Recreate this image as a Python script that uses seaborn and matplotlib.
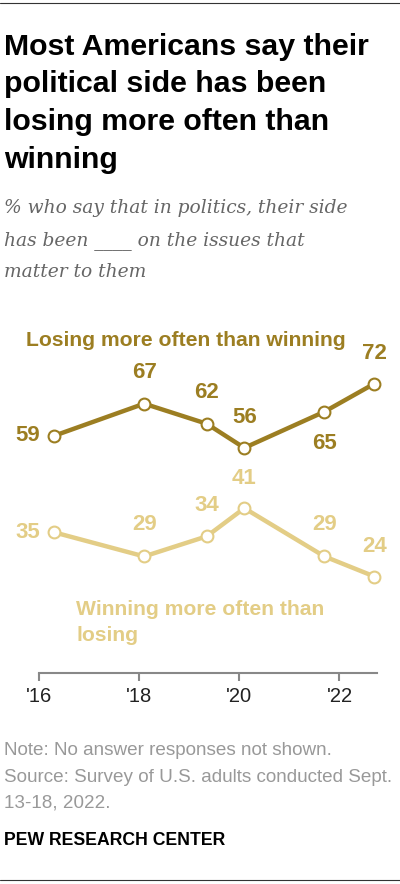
import matplotlib
matplotlib.use("Agg")
import matplotlib.pyplot as plt
import seaborn as sns
import pandas as pd

# Datos
years = [2016.3, 2018.1, 2019.35, 2020.1, 2021.7, 2022.7]
losing = [59, 67, 62, 56, 65, 72]
winning = [35, 29, 34, 41, 29, 24]
tick_years = [2016, 2018, 2020, 2022]
tick_labels = ["'16", "'18", "'20", "'22"]

dark = '#9c7e22'
light = '#e3cd86'

df = pd.DataFrame({'year': years, 'Losing': losing, 'Winning': winning})

sns.set_style("white")
plt.rcParams['font.family'] = ['Liberation Sans', 'DejaVu Sans']

W, H = 400, 884
fig = plt.figure(figsize=(W / 100, H / 100), dpi=100)
ax = fig.add_axes([39 / W, 211 / H, 338 / W, 341.7 / H])


def fy(y):
    return 1 - y / H


for col, color in [('Losing', dark), ('Winning', light)]:
    sns.lineplot(data=df, x='year', y=col, ax=ax, color=color, linewidth=3.2,
                 marker='o', markersize=8.5, markerfacecolor='white',
                 markeredgecolor=color, markeredgewidth=1.5, clip_on=False)

ax.set_xlim(2016, 2022.75)
ax.set_ylim(0, 85)
ax.set_xlabel("")
ax.set_ylabel("")
ax.set_yticks([])
ax.set_xticks(tick_years)
ax.set_xticklabels(tick_labels, fontsize=14.5, color='#222222')
ax.tick_params(axis='x', length=6, width=1.5, color='#888888', pad=4, bottom=True)
for s in ['top', 'right', 'left']:
    ax.spines[s].set_visible(False)
ax.spines['bottom'].set_color('#888888')
ax.spines['bottom'].set_linewidth(1.5)

# Etiquetas de valores (desplazamiento en píxeles, positivo hacia arriba)
loss_off = [(-26, 0), (0, 31), (0, 31), (0, 30), (0, -32), (0, 30)]
win_off = [(-26, 0), (0, 32), (0, 31), (0, 30), (0, 32), (0, 30)]
for vals, offs, color in [(losing, loss_off, dark), (winning, win_off, light)]:
    for x, v, (dx, dy) in zip(years, vals, offs):
        ax.annotate(f"{v}", (x, v), xytext=(dx, dy), textcoords='offset pixels',
                    ha='center', va='center', fontsize=16, fontweight='bold',
                    color=color, annotation_clip=False)

# Etiquetas de series
fig.text(26 / W, fy(346), "Losing more often than winning", fontsize=15.2,
         fontweight='bold', color=dark, va='baseline')
fig.text(76 / W, fy(615), "Winning more often than", fontsize=15.2,
         fontweight='bold', color=light, va='baseline')
fig.text(76 / W, fy(641), "losing", fontsize=15.2,
         fontweight='bold', color=light, va='baseline')

# Título
title = ["Most Americans say their", "political side has been",
         "losing more often than", "winning"]
for i, line in enumerate(title):
    fig.text(4 / W, fy(55 + i * 37.5), line, fontsize=21.8, fontweight='bold',
             color='black', va='baseline')

subtitle = ["% who say that in politics, their side",
            "has been ____ on the issues that",
            "matter to them"]
for i, line in enumerate(subtitle):
    fig.text(4 / W, fy(213 + i * 32), line, fontsize=13.4, style='italic',
             family='DejaVu Serif', color='#666666', va='baseline')

notes = ["Note: No answer responses not shown.",
         "Source: Survey of U.S. adults conducted Sept.",
         "13-18, 2022."]
for i, line in enumerate(notes):
    fig.text(4 / W, fy(755 + i * 26.5), line, fontsize=13.6, color='#999999',
             va='baseline')

fig.text(4 / W, fy(845), "PEW RESEARCH CENTER", fontsize=12.7, fontweight='bold',
         color='black', va='baseline')

# Líneas de borde
fig.add_artist(plt.Line2D([0, 1], [fy(3), fy(3)], color='#333333', linewidth=0.8))
fig.add_artist(plt.Line2D([0, 1], [fy(880), fy(880)], color='#333333', linewidth=0.8))

fig.savefig('out.png', dpi=100)
